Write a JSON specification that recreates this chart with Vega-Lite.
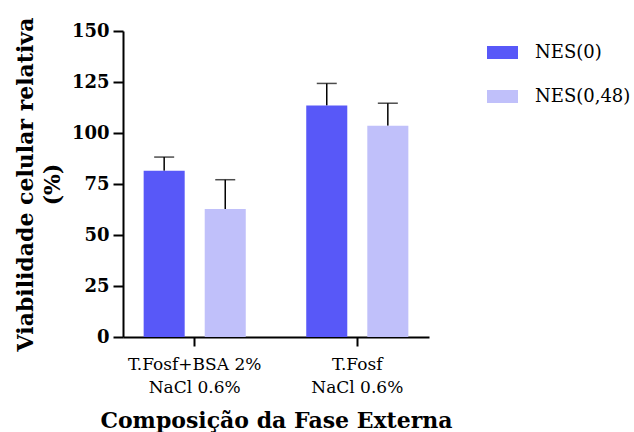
{
  "$schema": "https://vega.github.io/schema/vega-lite/v6.json",
  "width": 306,
  "height": 306,
  "autosize": "none",
  "padding": {"left": 123, "top": 31, "right": 205, "bottom": 95},
  "background": "white",
  "config": {
    "view": {"stroke": null},
    "font": "DejaVu Serif"
  },
  "data": {
    "values": [
      {"group": "T.Fosf+BSA 2%|NaCl 0.6%", "serie": "NES(0)", "value": 81.5, "upper": 88.2},
      {"group": "T.Fosf+BSA 2%|NaCl 0.6%", "serie": "NES(0,48)", "value": 62.8, "upper": 77.1},
      {"group": "T.Fosf|NaCl 0.6%", "serie": "NES(0)", "value": 113.5, "upper": 124.3},
      {"group": "T.Fosf|NaCl 0.6%", "serie": "NES(0,48)", "value": 103.6, "upper": 114.6}
    ]
  },
  "encoding": {
    "x": {
      "field": "group",
      "type": "nominal",
      "sort": null,
      "scale": {"paddingInner": 0.372, "paddingOuter": 0.127},
      "axis": {
        "title": "Composição da Fase Externa",
        "titleFont": "DejaVu Serif",
        "titleFontSize": 22,
        "titleFontWeight": "bold",
        "titleColor": "black",
        "titlePadding": 15,
        "labelExpr": "split(datum.label, '|')",
        "labelAngle": 0,
        "labelFont": "DejaVu Serif",
        "labelFontSize": 17,
        "labelColor": "black",
        "labelLineHeight": 23,
        "labelPadding": 10,
        "domainColor": "black",
        "domainWidth": 2,
        "tickColor": "black",
        "tickWidth": 2,
        "tickSize": 9
      }
    },
    "xOffset": {
      "field": "serie",
      "type": "nominal",
      "scale": {"paddingInner": 0.328, "paddingOuter": 0}
    }
  },
  "layer": [
    {
      "mark": {"type": "rule", "color": "black", "strokeWidth": 1.5},
      "encoding": {
        "y": {"field": "value", "type": "quantitative"},
        "y2": {"field": "upper"}
      }
    },
    {
      "mark": {"type": "tick", "color": "black", "thickness": 1.5, "size": 20},
      "encoding": {
        "y": {"field": "upper", "type": "quantitative"}
      }
    },
    {
      "mark": {"type": "bar"},
      "encoding": {
        "y": {
          "field": "value",
          "type": "quantitative",
          "scale": {"domain": [0, 150], "nice": false},
          "axis": {
            "values": [0, 25, 50, 75, 100, 125, 150],
            "title": ["Viabilidade celular relativa", "(%)"],
            "titleFont": "DejaVu Serif",
            "titleFontSize": 22,
            "titleFontWeight": "bold",
            "titleColor": "black",
            "titleLineHeight": 27,
            "titlePadding": 7,
            "labelFont": "DejaVu Serif",
            "labelFontSize": 18,
            "labelFontWeight": "bold",
            "labelColor": "black",
            "labelPadding": 4,
            "grid": false,
            "domainColor": "black",
            "domainWidth": 2,
            "tickColor": "black",
            "tickWidth": 2,
            "tickSize": 10
          }
        },
        "color": {
          "field": "serie",
          "type": "nominal",
          "scale": {"domain": ["NES(0)", "NES(0,48)"], "range": ["#5858F8", "#C0C0FA"]},
          "legend": {
            "title": null,
            "orient": "none",
            "legendX": 364,
            "legendY": 6,
            "symbolType": "M-1,-0.42L1,-0.42L1,0.42L-1,0.42Z",
            "symbolSize": 961,
            "symbolStrokeWidth": 0,
            "symbolOpacity": 1,
            "labelFont": "DejaVu Serif",
            "labelFontSize": 18,
            "labelColor": "black",
            "labelOffset": 17,
            "rowPadding": 19
          }
        }
      }
    }
  ]
}
